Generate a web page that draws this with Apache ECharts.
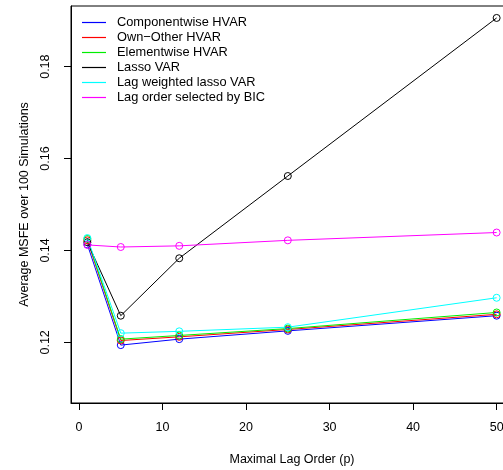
<!DOCTYPE html>
<html>
<head>
<meta charset="utf-8">
<script src="https://cdn.jsdelivr.net/npm/echarts@6/dist/echarts.min.js"></script>
<style>
  html, body { margin: 0; padding: 0; background: #fff; }
  #chart { width: 503px; height: 470px; }
</style>
</head>
<body>
<div id="chart"></div>
<script type="text/javascript">
// maximal lag orders used in the simulation
var lags = [1, 5, 12, 25, 50];
var xTicks = [0, 10, 20, 30, 40, 50];
var yTicks = [0.12, 0.14, 0.16, 0.18];

// average MSFE values
var componentwise = [0.1413, 0.1194, 0.1207, 0.1225, 0.1258];
var ownOther      = [0.1422, 0.1204, 0.1212, 0.1228, 0.1261];
var elementwise   = [0.1425, 0.1207, 0.1215, 0.1230, 0.1265];
var lassoVar      = [0.1418, 0.1258, 0.1383, 0.1562, 0.1906];
var lagWeighted   = [0.1427, 0.1220, 0.1224, 0.1233, 0.1297];
var bicOrder      = [0.1412, 0.14075, 0.1410, 0.1422, 0.1439];

var names = ['Componentwise HVAR', 'Own\u2212Other HVAR', 'Elementwise HVAR',
             'Lasso VAR', 'Lag weighted lasso VAR', 'Lag order selected by BIC'];
var colors = ['#0000ff', '#ff0000', '#00ee00', '#000000', '#00ffff', '#ff00ff'];
var values = [componentwise, ownOther, elementwise, lassoVar, lagWeighted, bicOrder];

var font = 'Liberation Sans, Arial, Helvetica, sans-serif';

var series = [];
var legendData = [];
for (var i = 0; i < names.length; i++) {
    var pts = [];
    for (var j = 0; j < lags.length; j++) {
        pts.push([lags[j], values[i][j]]);
    }
    // open circles like R's pch=1, line visible through them
    series.push({
        name: names[i],
        type: 'line',
        data: pts,
        symbol: 'circle',
        symbolSize: 7,
        itemStyle: { color: 'rgba(0,0,0,0)', borderColor: colors[i], borderWidth: 1 },
        lineStyle: { color: colors[i], width: 1 },
        emphasis: { disabled: true }
    });
    legendData.push({ name: names[i], itemStyle: { color: colors[i], borderWidth: 0 } });
}

var chart = echarts.init(document.getElementById('chart'));
chart.setOption({
    animation: false,
    grid: {
        show: true,
        left: 71,
        top: 6,
        width: 442,
        height: 397,
        containLabel: false,
        outerBoundsMode: 'none',
        borderColor: '#000',
        borderWidth: 1,
        backgroundColor: 'transparent'
    },
    legend: {
        orient: 'vertical',
        left: 82,
        top: 15,
        padding: 0,
        icon: 'rect',
        itemWidth: 24,
        itemHeight: 1.2,
        itemGap: 0,
        selectedMode: false,
        data: legendData,
        textStyle: { fontFamily: font, fontSize: 12.8, color: '#000', lineHeight: 15, padding: [0, 0, 0, 6] }
    },
    xAxis: {
        type: 'value',
        min: -0.96,
        max: 51.96,
        name: 'Maximal Lag Order (p)',
        nameLocation: 'middle',
        nameGap: 50,
        nameTextStyle: { fontFamily: font, fontSize: 12.5, color: '#000' },
        axisLine: { onZero: false, lineStyle: { color: '#000', width: 1 } },
        axisTick: { show: true, length: 7, lineStyle: { color: '#000' }, customValues: xTicks },
        axisLabel: { margin: 18, fontFamily: font, fontSize: 12.5, color: '#000', customValues: xTicks },
        splitLine: { show: false }
    },
    yAxis: {
        type: 'value',
        min: 0.1068,
        max: 0.1932,
        name: 'Average MSFE over 100 Simulations',
        nameLocation: 'middle',
        nameGap: 40,
        nameRotate: 90,
        nameTextStyle: { fontFamily: font, fontSize: 12.5, color: '#000' },
        axisLine: { show: true, onZero: false, lineStyle: { color: '#000', width: 1 } },
        axisTick: { show: true, length: 7, lineStyle: { color: '#000' }, customValues: yTicks },
        axisLabel: {
            rotate: 90,
            margin: 19,
            fontFamily: font,
            fontSize: 12.5,
            color: '#000',
            customValues: yTicks,
            formatter: function (v) { return v.toFixed(2); }
        },
        splitLine: { show: false }
    },
    series: series
});
</script>
</body>
</html>
